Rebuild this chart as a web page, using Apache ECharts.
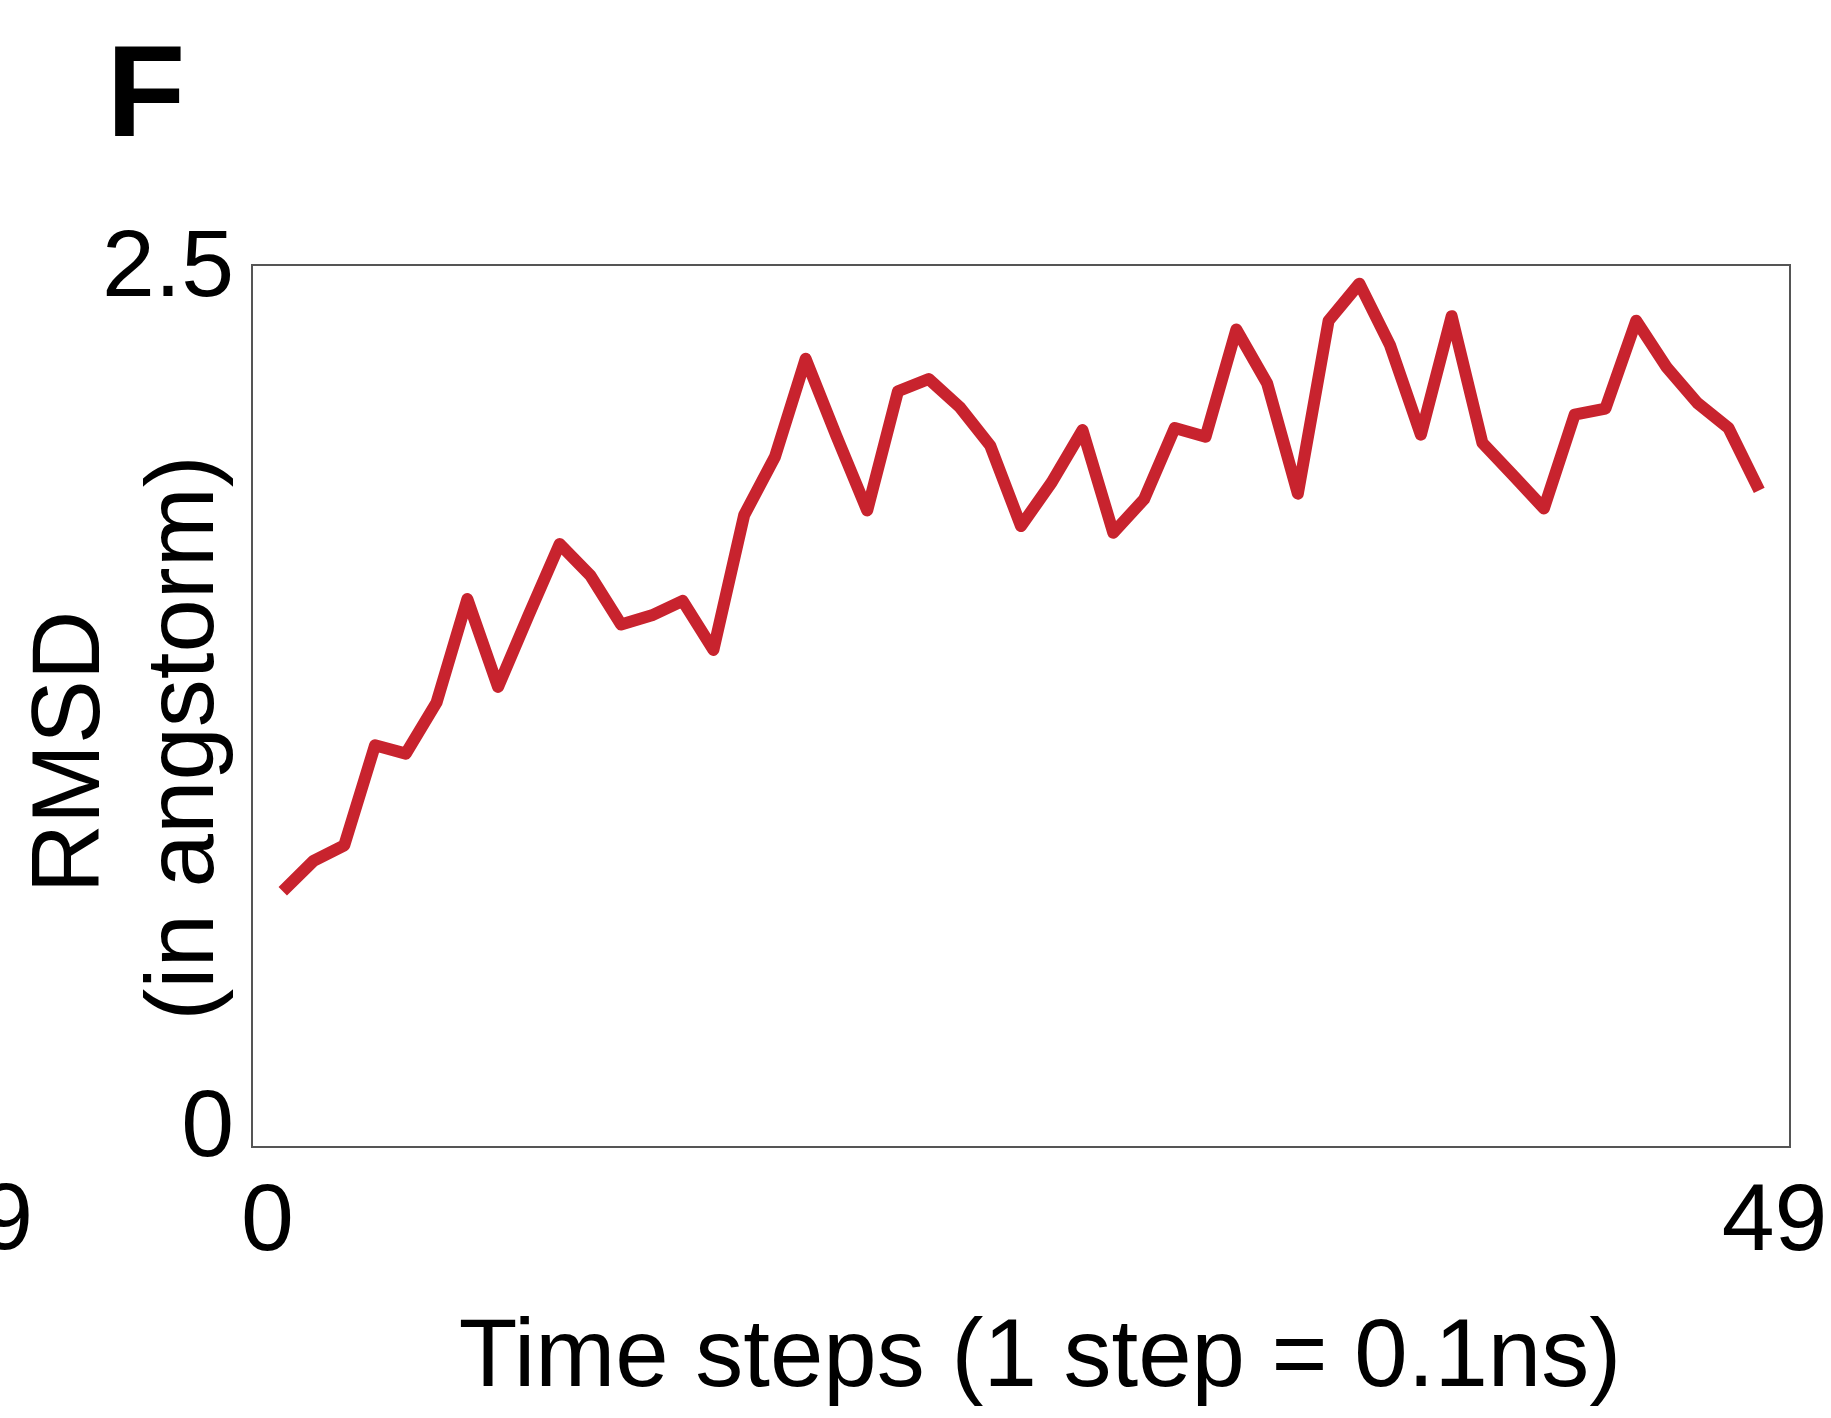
<!DOCTYPE html>
<html><head><meta charset="utf-8">
<script src="https://cdn.jsdelivr.net/npm/echarts@6/dist/echarts.min.js"></script>
<style>html,body{margin:0;padding:0;background:#fff}#c{width:1831px;height:1418px}</style>
</head><body><div id="c"></div>
<script>
// x tick label categories (one per time step band)
const stepLabels = ['0','1','2','3','4','5','6','7','8','9','10','11','12','13','14','15','16','17','18','19','20','21','22','23','24','25','26','27','28','29','30','31','32','33','34','35','36','37','38','39','40','41','42','43','44','45','46','47','48','49'];
// time steps of the plotted points
const steps = [1,2,3,4,5,6,7,8,9,10,11,12,13,14,15,16,17,18,19,20,21,22,23,24,25,26,27,28,29,30,31,32,33,34,35,36,37,38,39,40,41,42,43,44,45,46,47,48,49];
// RMSD values (angstrom)
const rmsd = [0.725,0.811,0.855,1.139,1.115,1.260,1.553,1.304,1.509,1.709,1.620,1.481,1.507,1.548,1.409,1.791,1.956,2.234,2.015,1.804,2.142,2.177,2.098,1.988,1.760,1.884,2.032,1.741,1.836,2.038,2.013,2.317,2.165,1.852,2.342,2.447,2.272,2.019,2.355,1.996,1.904,1.810,2.076,2.093,2.342,2.209,2.108,2.038,1.861];
const yMin = 0, yMax = 2.5;
const xTitle = 'Time steps (1 step = 0.1ns)';
const yTitleLine1 = 'RMSD';
const yTitleLine2 = '(in angstorm)';
const panelLabel = 'F';
const neighbourLabel = '49';

const FONT = '"Liberation Sans", Arial, sans-serif';
const chart = echarts.init(document.getElementById('c'), null, {renderer:'canvas'});
const option = {
  animation: false,
  backgroundColor: '#fff',
  grid: {left:252, right:41, top:265, bottom:271, show:true, borderColor:'#555', borderWidth:2, backgroundColor:'transparent'},
  xAxis: [
    {type:'value', min:0, max:50, axisLine:{show:false}, axisTick:{show:false}, axisLabel:{show:false}, splitLine:{show:false}},
    {type:'category', data: stepLabels, boundaryGap:true, position:'bottom',
     axisLine:{show:false}, axisTick:{show:false}, splitLine:{show:false},
     axisLabel:{interval:(i)=> i===0 || i===stepLabels.length-1, margin:29, fontSize:95, color:'#000', fontFamily:FONT},
     name:xTitle, nameLocation:'middle', nameGap:165, nameMoveOverlap:false,
     nameTextStyle:{fontSize:96, color:'#000', fontFamily:FONT, padding:[0,0,0,38]}}
  ],
  yAxis: {type:'value', min:yMin, max:yMax, interval:2.5,
    axisLine:{show:false}, axisTick:{show:false}, splitLine:{show:false},
    axisLabel:{margin:18, fontSize:95, color:'#000', fontFamily:FONT,
      formatter:(v)=> v===0 ? '{lo|0}' : '{hi|' + v + '}',
      rich:{
        lo:{fontSize:95, color:'#000', fontFamily:FONT, padding:[0,0,34,0]},
        hi:{fontSize:95, color:'#000', fontFamily:FONT, padding:[10,0,0,0]}
      }},
    name:'{a|' + yTitleLine1 + '}\n{b|' + yTitleLine2 + '}', nameLocation:'middle', nameRotate:90, nameGap:8, nameMoveOverlap:false,
    nameTextStyle:{fontSize:96, lineHeight:114, color:'#000', fontFamily:FONT, padding:[0,64,0,0],
      rich:{
        a:{fontSize:96, lineHeight:114, color:'#000', fontFamily:FONT, align:'center', padding:[0,28,0,0]},
        b:{fontSize:96, lineHeight:114, color:'#000', fontFamily:FONT, align:'center'}
      }}
  },
  graphic: [
    {type:'text', x:106.5, y:100, style:{text:panelLabel, font:'bold 129px ' + FONT, fill:'#000', verticalAlign:'middle', align:'left'}},
    {type:'text', x:33, y:1223, style:{text:neighbourLabel, font:'95px ' + FONT, fill:'#000', verticalAlign:'middle', align:'right'}}
  ],
  series: [{
    type:'line', xAxisIndex:0, showSymbol:false, symbol:'none',
    data: steps.map((s,i)=>[s, rmsd[i]]),
    lineStyle:{color:'#C8232E', width:12, join:'round'}
  }]
};
chart.setOption(option);
</script></body></html>
